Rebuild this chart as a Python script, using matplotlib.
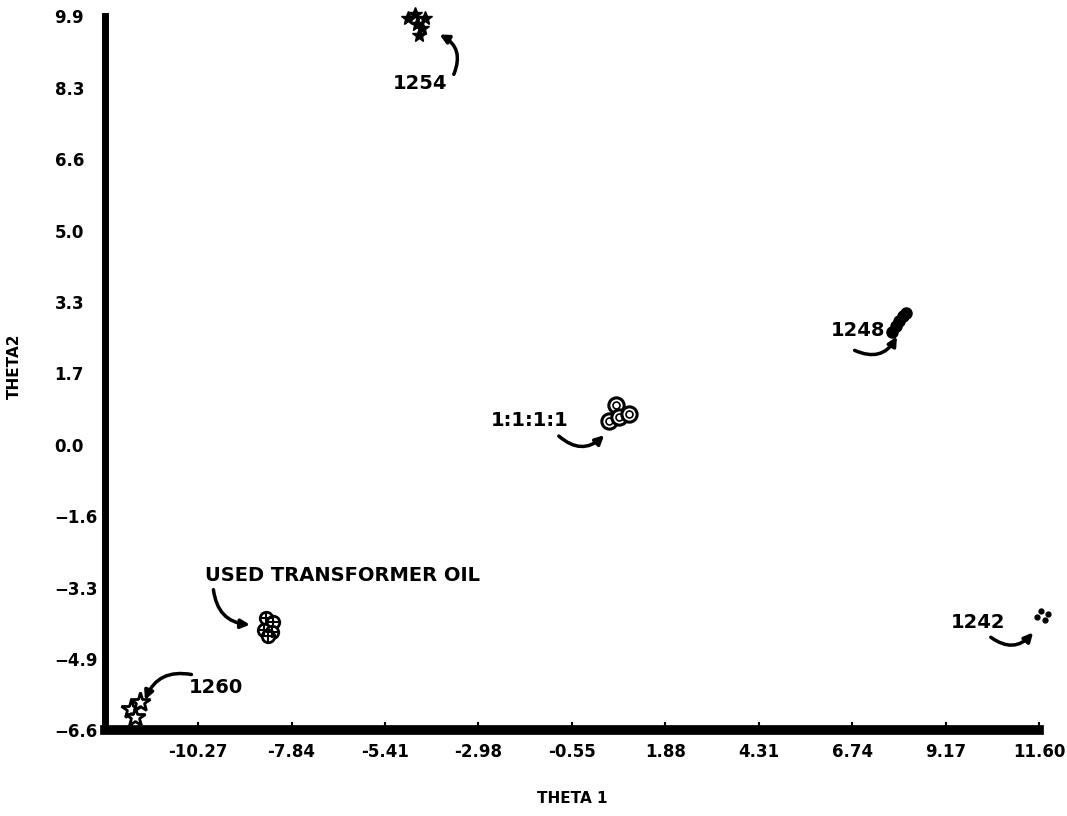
import matplotlib.pyplot as plt

plt.rcParams['font.family'] = ['DejaVu Sans']
plt.rcParams['font.weight'] = 'bold'

# cluster points (theta1, theta2)
x_1254 = [-4.80, -4.62, -4.38, -4.58, -4.45, -4.52]
y_1254 = [9.86, 9.95, 9.86, 9.72, 9.62, 9.47]

x_1248 = [7.77, 7.87, 7.95, 8.06, 8.13]
y_1248 = [2.61, 2.75, 2.86, 2.98, 3.05]

x_mix = [0.60, 0.42, 0.68, 0.94]
y_mix = [0.92, 0.55, 0.64, 0.71]

x_oil = [-8.50, -8.32, -8.55, -8.34, -8.45]
y_oil = [-4.01, -4.10, -4.29, -4.33, -4.43]

x_1260 = [-12.02, -11.78, -11.92]
y_1260 = [-6.10, -5.95, -6.30]

x_1242 = [11.65, 11.84, 11.55, 11.76]
y_1242 = [-3.85, -3.92, -3.99, -4.06]

x_ticks = [-10.27, -7.84, -5.41, -2.98, -0.55, 1.88, 4.31, 6.74, 9.17, 11.60]
y_ticks = [-6.6, -4.95, -3.3, -1.65, 0.0, 1.65, 3.3, 4.95, 6.6, 8.25, 9.9]
y_tick_labels = ['−6.6', '−4.9', '−3.3', '−1.6', '0.0', '1.7', '3.3', '5.0', '6.6', '8.3', '9.9']

fig = plt.figure(figsize=(10.67, 8.16), dpi=100)
ax = fig.add_axes([0.098, 0.105, 0.876, 0.875])

ax.plot(x_1254, y_1254, ls='none', marker='*', ms=10, color='black', clip_on=False)
ax.plot(x_1248, y_1248, ls='none', marker='o', ms=8, color='black', clip_on=False)
ax.plot(x_mix, y_mix, ls='none', marker='o', ms=11, mfc='white', mec='black', mew=2.2, clip_on=False)
ax.plot(x_mix, y_mix, ls='none', marker='o', ms=5, mfc='none', mec='black', mew=1.2, clip_on=False)
ax.plot(x_oil, y_oil, ls='none', marker='o', ms=9, mfc='white', mec='black', mew=2, clip_on=False)
ax.plot(x_oil, y_oil, ls='none', marker='+', ms=8, color='black', mew=1.5, clip_on=False)
ax.plot(x_1260, y_1260, ls='none', marker='*', ms=15, mfc='white', mec='black', mew=2, clip_on=False)
ax.plot(x_1242, y_1242, ls='none', marker='o', ms=3.5, color='black', clip_on=False)

arrow = dict(arrowstyle='-|>', color='black', lw=2.5, mutation_scale=13, shrinkA=0, shrinkB=0)

def note(label, txt_xy, tail, tip, rad, ha='center'):
    ax.text(txt_xy[0], txt_xy[1], label, ha=ha, va='center', fontsize=14, fontweight='bold')
    ax.annotate('', xy=tip, xytext=tail,
                arrowprops=dict(arrow, connectionstyle='arc3,rad=%s' % rad))

note('1254', (-4.49, 8.35), (-3.62, 8.56), (-3.99, 9.48), 0.45)
note('1248', (6.90, 2.64), (6.80, 2.18), (7.90, 2.50), 0.45)
note('1:1:1:1', (-1.65, 0.57), (-0.89, 0.20), (0.29, 0.22), 0.45)
note('USED TRANSFORMER OIL', (-10.10, -3.03), (-9.87, -3.35), (-8.92, -4.16), 0.4, ha='left')
note('1260', (-10.52, -5.61), (-10.44, -5.31), (-11.65, -5.90), 0.4, ha='left')
note('1242', (9.30, -4.11), (10.34, -4.45), (11.44, -4.34), 0.45, ha='left')

ax.set_xlim(-12.70, 11.60)
ax.set_ylim(-6.6, 9.9)
ax.set_xticks(x_ticks)
ax.set_xticklabels(['%.2f' % v for v in x_ticks])
ax.set_yticks(y_ticks)
ax.set_yticklabels(y_tick_labels)

for side in ['top', 'right']:
    ax.spines[side].set_visible(False)
ax.spines['left'].set_linewidth(5)
ax.spines['bottom'].set_linewidth(7)

ax.tick_params(axis='x', direction='in', length=6, width=1.5, labelsize=12, pad=9)
ax.tick_params(axis='y', length=0, labelsize=12, pad=36)
# the y labels sit flush left, so the minus signs push the negatives to the right
for lbl in ax.get_yticklabels():
    lbl.set_horizontalalignment('left')

ax.set_xlabel('THETA 1', fontsize=11, fontweight='bold', labelpad=22)
ax.set_ylabel('THETA2', fontsize=11, fontweight='bold')
ax.yaxis.set_label_coords(-0.089, 0.51)

fig.savefig('out.png', dpi=100)
